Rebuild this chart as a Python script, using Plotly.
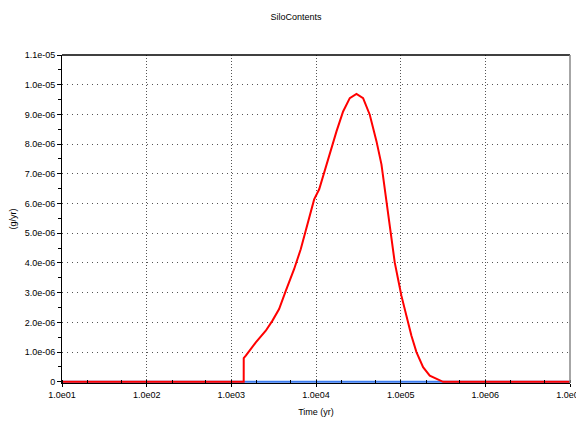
import plotly.graph_objects as go

# Data
time_red = [10, 1400, 1401, 1483, 1946, 2552, 3060, 3666, 4396, 5510, 6600, 7940, 9510,
            10900, 12470, 14550, 17460, 20900, 25060, 30060, 36000, 43150, 51760, 59290,
            64860, 71000, 77800, 85100, 93100, 102000, 116900, 134000, 153600, 184000,
            220600, 276600, 317000, 1e7]
value_red = [0, 0, 0.80e-6, 0.88e-6, 1.33e-6, 1.72e-6, 2.06e-6, 2.45e-6, 3.06e-6, 3.79e-6,
             4.46e-6, 5.36e-6, 6.14e-6, 6.48e-6, 7.04e-6, 7.65e-6, 8.43e-6, 9.10e-6,
             9.55e-6, 9.69e-6, 9.55e-6, 8.99e-6, 8.10e-6, 7.32e-6, 6.48e-6, 5.81e-6,
             4.91e-6, 4.02e-6, 3.46e-6, 2.90e-6, 2.22e-6, 1.55e-6, 1.00e-6, 0.49e-6,
             0.21e-6, 0.07e-6, 0, 0]
time_blue = [10, 1e7]
value_blue = [0, 0]

y_tickvals = [0, 1e-6, 2e-6, 3e-6, 4e-6, 5e-6, 6e-6, 7e-6, 8e-6, 9e-6, 1e-5, 1.1e-5]
y_ticktext = ["0", "1.0e-06", "2.0e-06", "3.0e-06", "4.0e-06", "5.0e-06", "6.0e-06",
              "7.0e-06", "8.0e-06", "9.0e-06", "1.0e-05", "1.1e-05"]
x_tickvals = [1e1, 1e2, 1e3, 1e4, 1e5, 1e6, 1e7]
x_ticktext = ["1.0e01", "1.0e02", "1.0e03", "1.0e04", "1.0e05", "1.0e06", "1.0e07"]

fig = go.Figure()
fig.add_trace(go.Scatter(x=time_blue, y=value_blue, mode="lines",
                         line=dict(color="#3d7cf0", width=2), showlegend=False))
fig.add_trace(go.Scatter(x=time_red, y=value_red, mode="lines",
                         line=dict(color="#ff0000", width=2), showlegend=False))

font = dict(family="Liberation Sans, Arial, sans-serif", size=9, color="#000000")

# the page body adds an 8px offset, so the figure is sized to compensate
fig.update_layout(
    width=576, height=413,
    margin=dict(l=54, r=14, t=47, b=38),
    paper_bgcolor="white", plot_bgcolor="white",
    font=font,
    title=dict(text="SiloContents", x=0.5, xanchor="center", y=1 - 9 / 413,
               yanchor="middle", font=dict(size=9)),
    xaxis=dict(type="log", range=[1, 7], tickvals=x_tickvals, ticktext=x_ticktext,
               automargin=False,
               showline=True, linecolor="black", linewidth=1,
               showgrid=True, gridcolor="#555555", griddash="1px,2px", gridwidth=1,
               ticks="outside", ticklen=3, tickcolor="black",
               minor=dict(ticks="inside", ticklen=3, tickcolor="black", showgrid=False),
               title=dict(text="Time (yr)", standoff=9, font=dict(size=9)),
               zeroline=False),
    yaxis=dict(range=[-0.04e-6, 1.1e-5], tickvals=y_tickvals, ticktext=y_ticktext,
               automargin=False,
               showline=True, linecolor="black", linewidth=1,
               showgrid=True, gridcolor="#555555", griddash="1px,4px", gridwidth=1,
               ticks="outside", ticklen=4, tickcolor="black",
               minor=dict(tick0=0, dtick=5e-7, ticks="outside", ticklen=3,
                          tickcolor="black", showgrid=False),
               title=dict(text="(g/yr)", standoff=10, font=dict(size=9)),
               zeroline=False),
)

fig.add_shape(type="line", xref="paper", yref="paper", x0=0, x1=1, y0=1, y1=1,
              line=dict(color="black", width=1.5))
fig.add_shape(type="line", xref="paper", yref="paper", x0=1, x1=1, y0=0, y1=1,
              line=dict(color="#888888", width=1.5))

fig.write_html("out.html")
